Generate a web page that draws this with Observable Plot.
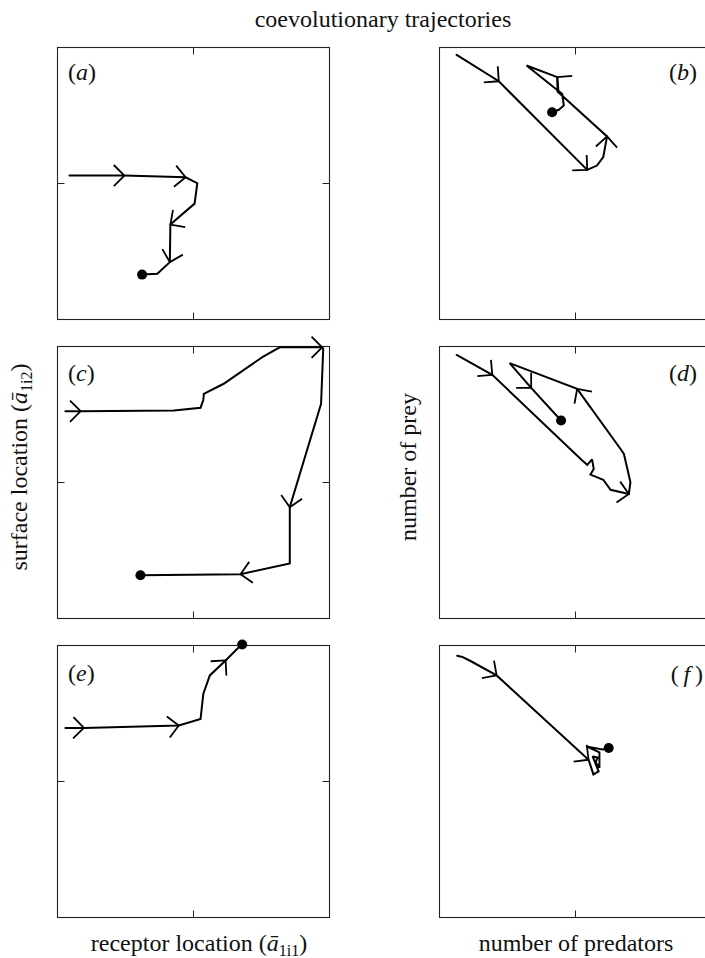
<!DOCTYPE html>
<html><head><meta charset="utf-8">
<script src="https://cdn.jsdelivr.net/npm/d3@7"></script>
<script src="https://cdn.jsdelivr.net/npm/@observablehq/plot@0.6"></script>
<style>
body{margin:0;background:#fff;}
#fig{position:relative;width:705px;height:958px;overflow:hidden;background:#fff;}
.panel{position:absolute;width:312px;height:312px;}
.panel svg{overflow:visible;max-width:none;background:transparent;}
#txt{position:absolute;left:0;top:0;pointer-events:none;font-family:"Liberation Serif","Times New Roman",serif;font-size:24px;}
</style></head>
<body><div id="fig"></div>
<script>
// ---- data (abstract units, 0..100 on both axes) ----
const tickValues = [50];

const aX = [4.4, 24.6, 47.1, 51.4, 50.4, 41.5, 41.3, 36.7, 31.1];
const aY = [52.9, 52.9, 52.3, 50.1, 42.6, 34.9, 21.1, 16.8, 16.5];
const aArrowAt = [1, 2, 5, 6];
const aArrowDir = [90, 96, 235, 195];

const bX = [6.3, 21.8, 54.3, 57.9, 60.2, 61.6, 43.4, 43.3, 32.0, 43.5, 45.1, 45.7, 43.9, 41.4];
const bY = [97.3, 87.6, 55.0, 56.6, 59.7, 67.3, 83.8, 89.1, 93.4, 84.2, 83.0, 78.7, 77.1, 76.2];
const bArrowAt = [1, 2, 5, 7];
const bArrowDir = [131, 133, 3, 310];

const cX = [2.9, 8.5, 42.8, 52.6, 53.6, 53.8, 61.1, 75.3, 81.7, 97.3, 97.7, 96.9, 85.4, 85.4, 67.3, 30.5];
const cY = [76.2, 76.2, 76.5, 77.5, 80.3, 82.6, 86.3, 96.1, 99.7, 99.7, 99.2, 78.9, 40.9, 20.2, 16.3, 15.9];
const cArrowAt = [1, 9, 12, 14];
const cArrowDir = [90, 90, 190, 260];

const dX = [6.3, 19.4, 52.5, 54.3, 56.1, 56.7, 55.5, 58.0, 60.2, 62.9, 69.6, 70.2, 67.8, 66.5, 50.6, 25.8, 33.7, 44.7];
const dY = [96.9, 89.6, 58.1, 56.5, 58.5, 55.0, 52.9, 51.9, 51.0, 47.3, 45.8, 50.1, 60.5, 62.4, 84.4, 93.9, 84.8, 72.8];
const dArrowAt = [1, 10, 14, 16];
const dArrowDir = [130, 100, 325, 135];

const eX = [2.9, 9.7, 44.6, 52.6, 53.6, 56.0, 61.8, 66.1, 67.9];
const eY = [69.7, 69.7, 70.6, 73.0, 82.2, 89.0, 94.5, 98.8, 100.4];
const eArrowAt = [1, 2, 6];
const eArrowDir = [91, 82, 42];

const fX = [6.5, 8.4, 11.4, 21.0, 54.8, 56.6, 58.5, 56.3, 58.1, 57.4, 58.8, 58.8, 54.0, 59.9, 62.2];
const fY = [96.2, 95.8, 94.3, 89.0, 58.0, 52.6, 53.7, 59.2, 58.8, 57.0, 55.1, 60.7, 62.9, 61.8, 62.3];
const fArrowAt = [3, 4];
const fArrowDir = [125, 128];

const panelLabels = ["a", "b", "c", "d", "e", "f"];
const titleText = "coevolutionary trajectories";

// ---- layout ----
const FRAME = 272, M = 20;
const panels = [
  {id: "a", x: aX, y: aY, at: aArrowAt, dir: aArrowDir, left: 57, top: 47, yTicks: true},
  {id: "b", x: bX, y: bY, at: bArrowAt, dir: bArrowDir, left: 439, top: 47, yTicks: false},
  {id: "c", x: cX, y: cY, at: cArrowAt, dir: cArrowDir, left: 57, top: 346, yTicks: true},
  {id: "d", x: dX, y: dY, at: dArrowAt, dir: dArrowDir, left: 439, top: 346, yTicks: false},
  {id: "e", x: eX, y: eY, at: eArrowAt, dir: eArrowDir, left: 57, top: 645, yTicks: true},
  {id: "f", x: fX, y: fY, at: fArrowAt, dir: fArrowDir, left: 439, top: 645, yTicks: false}
];

const vHead = {draw(ctx, l) {
  const a = Math.PI / 4;
  ctx.moveTo(-l * Math.sin(a), l * Math.cos(a));
  ctx.lineTo(0, 0);
  ctx.lineTo(l * Math.sin(a), l * Math.cos(a));
}};
const tickShape = {draw(ctx, l) { ctx.moveTo(0, 0); ctx.lineTo(0, -l); }};

const fig = document.getElementById("fig");

for (const p of panels) {
  const pts = p.x.map((x, i) => ({x, y: p.y[i]}));
  const arrows = p.at.map((k, j) => ({x: p.x[k], y: p.y[k], dir: p.dir[j]}));
  const end = [pts[pts.length - 1]];
  const tickOpts = {length: 7, anchor: "start", shape: tickShape, stroke: "#222", strokeWidth: 1, fill: "none", strokeLinecap: "butt"};
  const marks = [
    Plot.frame({stroke: "#222", strokeWidth: 1.1}),
    Plot.vector(tickValues, {x: d => d, frameAnchor: "bottom", rotate: 0, ...tickOpts}),
    Plot.vector(tickValues, {x: d => d, frameAnchor: "top", rotate: 180, ...tickOpts})
  ];
  if (p.yTicks) {
    marks.push(Plot.vector(tickValues, {y: d => d, frameAnchor: "left", rotate: 90, ...tickOpts}));
    marks.push(Plot.vector(tickValues, {y: d => d, frameAnchor: "right", rotate: -90, ...tickOpts}));
  }
  marks.push(
    Plot.line(pts, {x: "x", y: "y", stroke: "black", strokeWidth: 2, strokeLinejoin: "miter", strokeMiterlimit: 2}),
    Plot.vector(arrows, {x: "x", y: "y", rotate: "dir", length: 15, anchor: "start", shape: vHead, stroke: "black", strokeWidth: 1.8, fill: "none", strokeLinecap: "butt"}),
    Plot.dot(end, {x: "x", y: "y", r: 5, fill: "black", stroke: "none"})
  );
  const chart = Plot.plot({
    width: FRAME + 2 * M, height: FRAME + 2 * M,
    marginTop: M, marginRight: M, marginBottom: M, marginLeft: M,
    x: {domain: [0, 100], axis: null},
    y: {domain: [0, 100], axis: null},
    marks
  });
  const div = document.createElement("div");
  div.className = "panel";
  div.style.left = (p.left - M) + "px";
  div.style.top = (p.top - M) + "px";
  div.appendChild(chart);
  fig.appendChild(div);
}

// ---- text overlay ----
const NS = "http://www.w3.org/2000/svg";
const svg = document.createElementNS(NS, "svg");
svg.setAttribute("id", "txt");
svg.setAttribute("width", 705);
svg.setAttribute("height", 958);
fig.appendChild(svg);

function addText(x, y, anchor, parts, transform) {
  const t = document.createElementNS(NS, "text");
  t.setAttribute("x", x); t.setAttribute("y", y);
  t.setAttribute("text-anchor", anchor);
  if (transform) t.setAttribute("transform", transform);
  t.setAttribute("fill", "#111");
  for (const part of parts) {
    const s = document.createElementNS(NS, "tspan");
    s.textContent = part.t;
    if (part.i) s.setAttribute("font-style", "italic");
    if (part.size) s.setAttribute("font-size", part.size);
    if (part.dy) s.setAttribute("dy", part.dy);
    t.appendChild(s);
  }
  svg.appendChild(t);
}

addText(383, 27, "middle", [{t: titleText}]);

// panel labels
const labelPos = [
  [68, 80, "start", ""], [697, 80, "end", ""],
  [68, 381, "start", ""], [697, 381, "end", ""],
  [68, 681, "start", ""], [703, 682, "end", "\u2009"]
];
panelLabels.forEach((l, i) => {
  const [x, y, anc, sp] = labelPos[i];
  addText(x, y, anc, [{t: "(" + sp}, {t: l, i: true}, {t: sp + ")"}]);
});

// axis labels
addText(199, 951, "middle", [{t: "receptor location ("}, {t: "\u0101", i: true}, {t: "1i1", size: 16, dy: 5}, {t: ")", dy: -5}]);
addText(576, 951, "middle", [{t: "number of predators"}]);
addText(0, 0, "middle", [{t: "surface location ("}, {t: "\u0101", i: true}, {t: "1i2", size: 16, dy: 5}, {t: ")", dy: -5}], "translate(27,467) rotate(-90)");
addText(0, 0, "middle", [{t: "number of prey"}], "translate(416,467) rotate(-90)");
</script>
</body></html>
